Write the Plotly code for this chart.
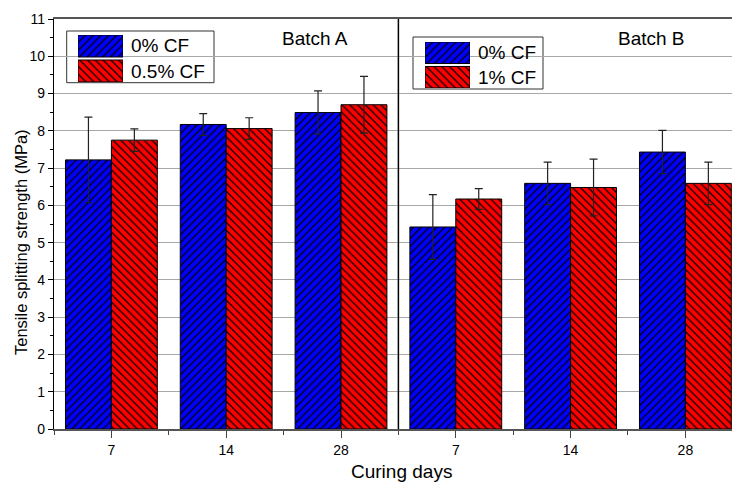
import plotly.graph_objects as go

# ---------------- data ----------------
days = ["7", "14", "28"]
batch_a_0cf = [7.22, 8.17, 8.49]
batch_a_0cf_err = [1.15, 0.29, 0.58]
batch_a_05cf = [7.75, 8.06, 8.70]
batch_a_05cf_err = [0.30, 0.29, 0.76]
batch_b_0cf = [5.42, 6.59, 7.43]
batch_b_0cf_err = [0.87, 0.57, 0.58]
batch_b_1cf = [6.17, 6.48, 6.59]
batch_b_1cf_err = [0.28, 0.76, 0.57]
y_ticks = list(range(0, 12))

legend_a = ["0% CF", "0.5% CF"]
legend_b = ["0% CF", "1% CF"]
batch_titles = ["Batch A", "Batch B"]

BLUE = "#0000ff"
RED = "#ff0000"
FONT = "Arial, Liberation Sans, sans-serif"
PAT_SIZE = 5.5
PAT_SOLID = 0.22

W, H = 732, 484
ML, MR, MT, MB = 54, 0, 19, 55
PW, PH = W - ML - MR, H - MT - MB

def px(xp):
    return (xp - ML) / PW

def py(yp):
    return (H - MB - yp) / PH

n = len(days)
pos_a = list(range(n))
pos_b = [n + i for i in range(n)]
tick_pos = pos_a + pos_b
tick_text = days + days


def pattern(color, shape):
    return dict(color=color, line=dict(color="black", width=1),
                pattern=dict(shape=shape, fgcolor="black", bgcolor=color,
                             size=PAT_SIZE, solidity=PAT_SOLID, fillmode="replace"))


def bars(x, y, err, color, shape, group):
    return go.Bar(
        x=x, y=y,
        error_y=dict(type="data", array=err, color="#222222", thickness=1.2, width=4),
        marker=pattern(color, shape),
        offsetgroup=group, showlegend=False, hoverinfo="skip",
    )


fig = go.Figure()
fig.add_trace(bars(pos_a, batch_a_0cf, batch_a_0cf_err, BLUE, "/", "g1"))
fig.add_trace(bars(pos_a, batch_a_05cf, batch_a_05cf_err, RED, "\\", "g2"))
fig.add_trace(bars(pos_b, batch_b_0cf, batch_b_0cf_err, BLUE, "/", "g1"))
fig.add_trace(bars(pos_b, batch_b_1cf, batch_b_1cf_err, RED, "\\", "g2"))

# legend swatches drawn on small auxiliary axes
for k, (x0, x1, y0, y1) in enumerate([(78, 123, 35, 82), (425, 470, 42, 88)]):
    ax = k + 2
    for yv, color, shape in [(1, BLUE, "/"), (0, RED, "\\")]:
        fig.add_trace(go.Bar(
            y=[yv], x=[1], base=0, orientation="h", width=0.88,
            marker=pattern(color, shape),
            xaxis=f"x{ax}", yaxis=f"y{ax}", showlegend=False, hoverinfo="skip",
        ))
    fig.layout[f"xaxis{ax}"] = dict(domain=[px(x0), px(x1)], range=[0, 1], visible=False,
                                    anchor=f"y{ax}", fixedrange=True)
    fig.layout[f"yaxis{ax}"] = dict(domain=[py(y1), py(y0)], range=[-0.44, 1.44], visible=False,
                                    anchor=f"x{ax}", fixedrange=True)

shapes = [
    dict(type="line", xref="x", yref="y", x0=n - 0.5, x1=n - 0.5, y0=0, y1=11,
         line=dict(color="black", width=1.5)),
]
for (x0, x1, y0, y1) in [(66.7, 214, 31, 82.7), (413, 543, 37, 89)]:
    shapes.append(dict(type="rect", xref="paper", yref="paper", layer="between",
                       x0=px(x0), x1=px(x1), y0=py(y1), y1=py(y0),
                       fillcolor="white", line=dict(color="#333333", width=1)))

annotations = []
for txt, (xl, yc) in zip(legend_a + legend_b, [(129, 46), (129, 71), (476, 53), (476, 77)]):
    annotations.append(dict(text=txt, xref="paper", yref="paper", x=px(xl), y=py(yc),
                            xanchor="left", yanchor="middle", showarrow=False,
                            font=dict(size=19, color="black", family=FONT)))
for txt, (xc, yc) in zip(batch_titles, [(315, 38), (651, 38)]):
    annotations.append(dict(text=txt, xref="paper", yref="paper", x=px(xc), y=py(yc),
                            xanchor="center", yanchor="middle", showarrow=False,
                            font=dict(size=19, color="black", family=FONT)))
annotations.append(dict(text="Curing days", xref="paper", yref="paper", x=px(401), y=py(471),
                        xanchor="center", yanchor="middle", showarrow=False,
                        font=dict(size=19, color="black", family=FONT)))
annotations.append(dict(text="Tensile splitting strength (MPa)", xref="paper", yref="paper",
                        x=px(21), y=py(242), textangle=-90, xanchor="center", yanchor="middle",
                        showarrow=False, font=dict(size=16.5, color="black", family=FONT)))

fig.update_layout(
    width=W, height=H,
    margin=dict(l=ML, r=MR, t=MT, b=MB, pad=0),
    paper_bgcolor="white", plot_bgcolor="white",
    barmode="group", bargap=0.2, bargroupgap=0,
    font=dict(family=FONT, color="black", size=14),
    shapes=shapes, annotations=annotations,
    xaxis=dict(
        range=[-0.5, 5.406], tickmode="array", tickvals=tick_pos, ticktext=tick_text,
        ticks="outside", ticklen=7, tickwidth=1.2, tickcolor="#444444",
        showline=True, linecolor="#555555", linewidth=1.5, mirror=True,
        showgrid=False, zeroline=False, tickfont=dict(size=14),
        minor=dict(tickmode="array", tickvals=[p - 0.5 for p in tick_pos],
                   ticks="outside", ticklen=4, tickcolor="#444444", showgrid=False),
        fixedrange=True,
    ),
    yaxis=dict(
        range=[0, 11], tickmode="array", tickvals=y_ticks,
        ticks="outside", ticklen=5, tickwidth=1.2, tickcolor="black",
        showline=True, linecolor="black", linewidth=1.2,
        showgrid=True, gridcolor="#a8a8a8", gridwidth=1, zeroline=False,
        tickfont=dict(size=14),
        minor=dict(dtick=0.5, tick0=0, ticks="outside", ticklen=3, tickcolor="black",
                   showgrid=False),
        fixedrange=True,
    ),
)

fig.write_html("out.html")
